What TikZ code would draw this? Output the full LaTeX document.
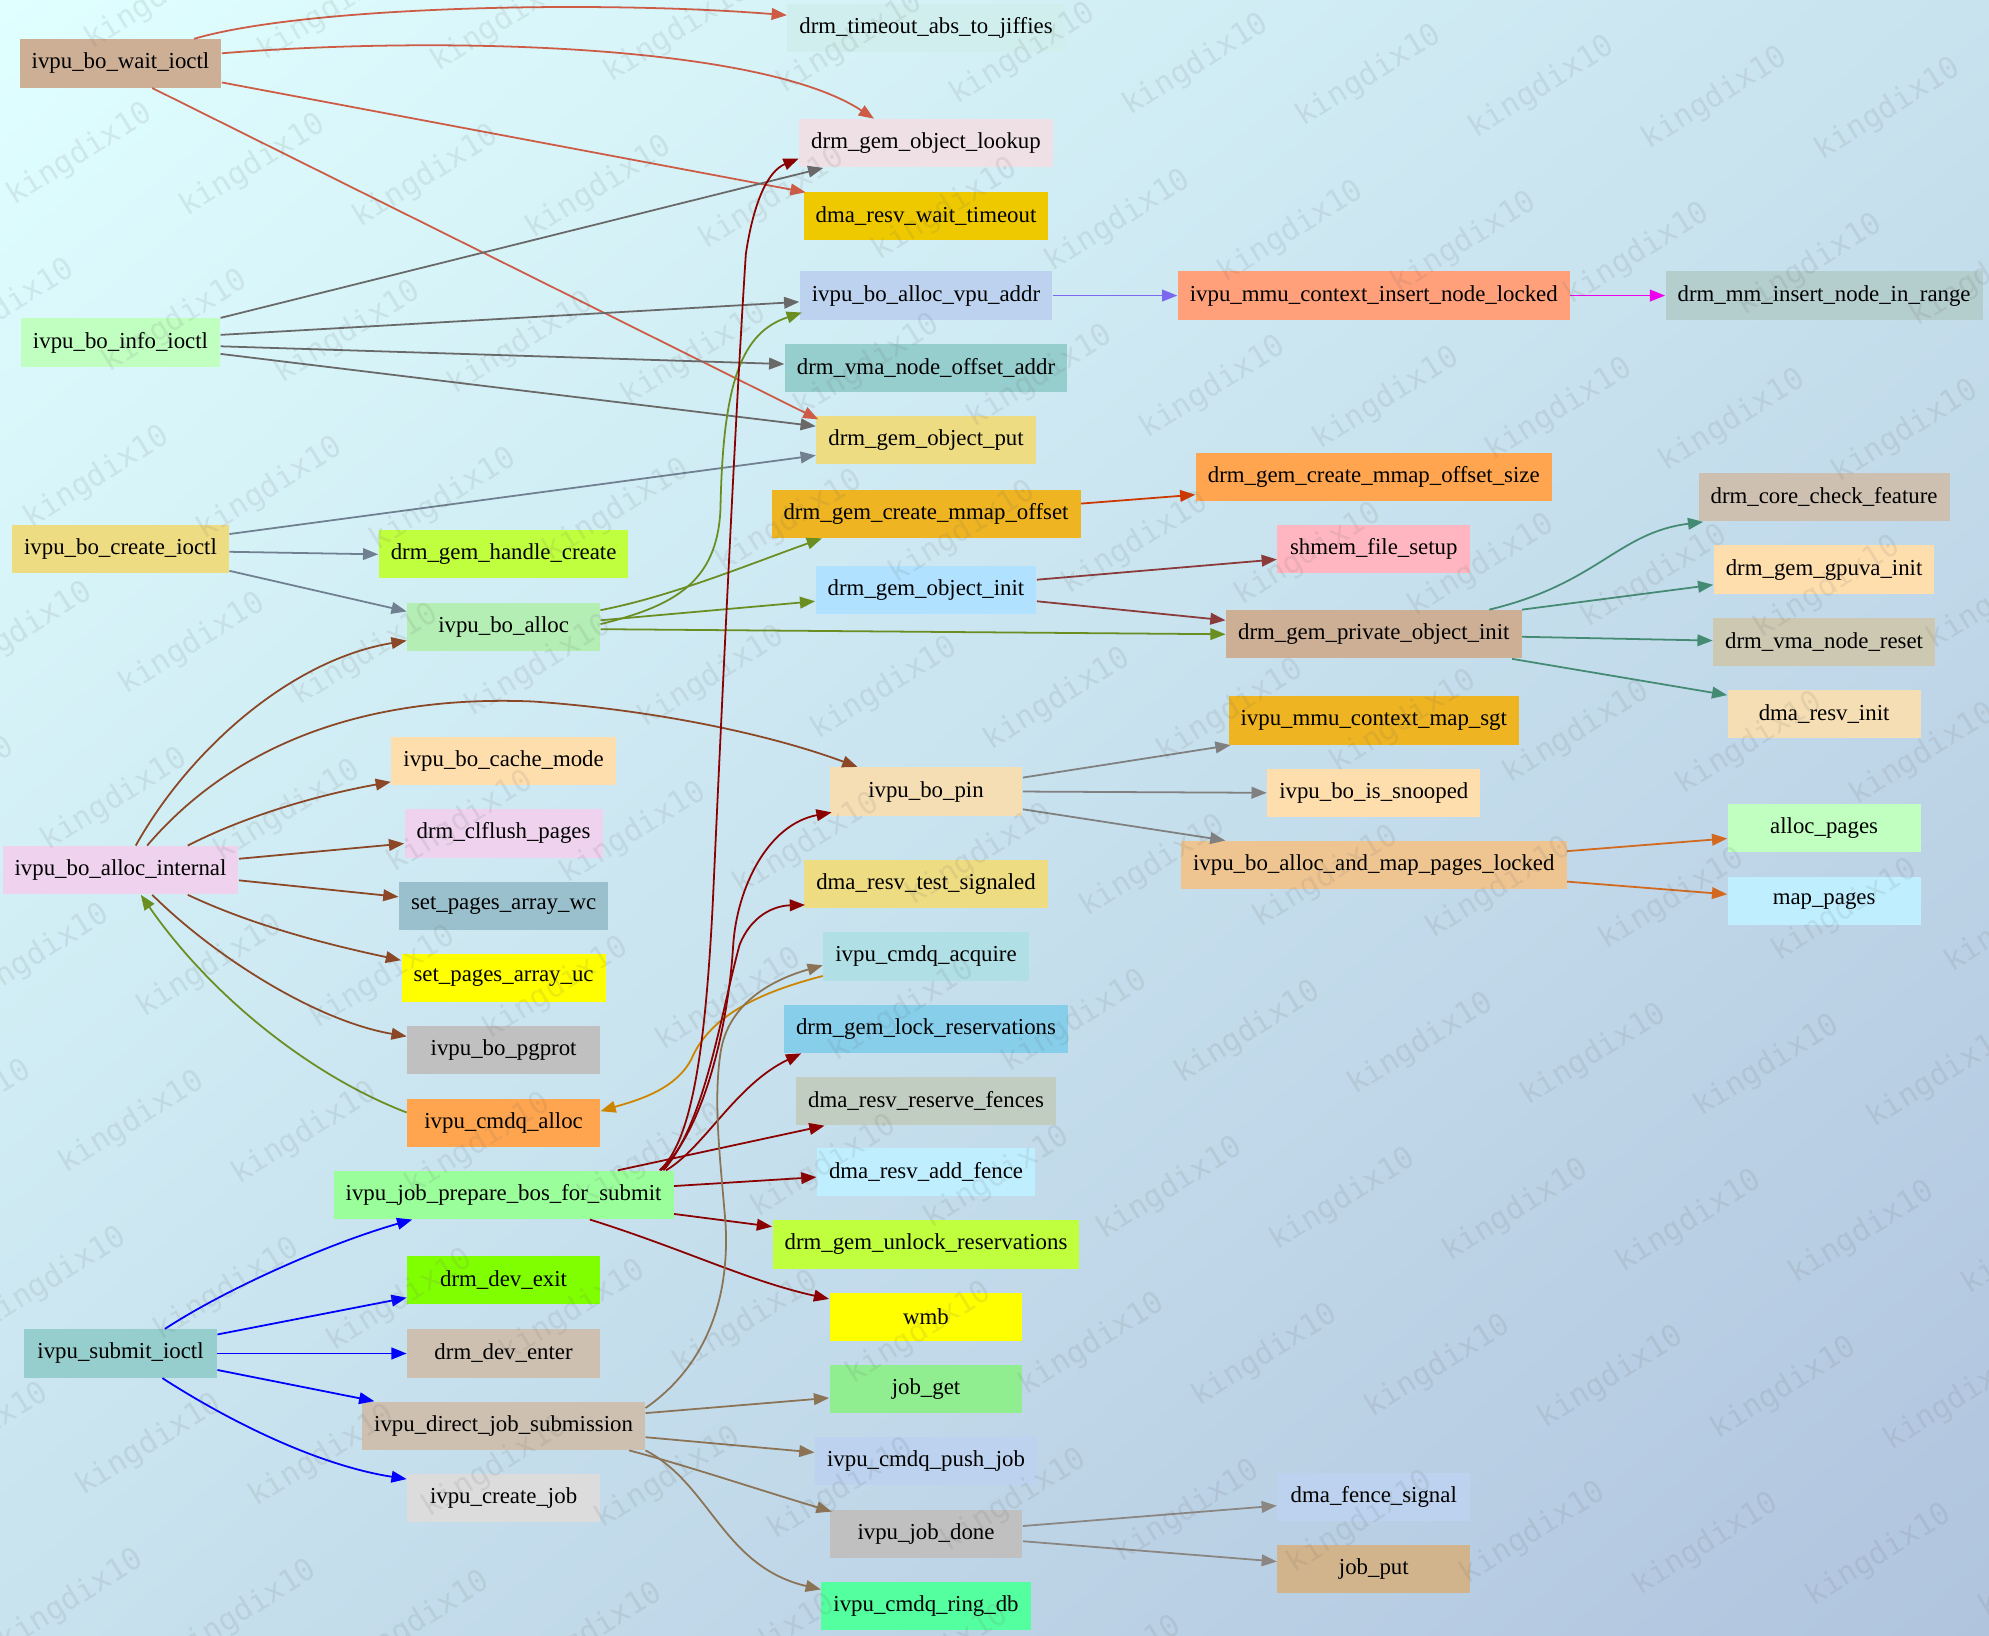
\documentclass[tikz,border=0pt]{standalone}
\usepackage{fontspec}
\setmainfont{Liberation Serif}
\newfontfamily\wmfont{DejaVu Sans Mono}
\usetikzlibrary{arrows.meta,shadings}
% node fills
\definecolor{cPeach3}{HTML}{CDAF95}
\definecolor{cDSG1}{HTML}{C1FFC1}
\definecolor{cLGold2}{HTML}{EEDC82}
\definecolor{cThistle2}{HTML}{EED2EE}
\definecolor{cPTurq3}{HTML}{96CDCD}
\definecolor{cOlive1}{HTML}{C0FF3E}
\definecolor{cDSG2}{HTML}{B4EEB4}
\definecolor{cNavajo}{HTML}{FFDEAD}
\definecolor{cLBlue3}{HTML}{9AC0CD}
\definecolor{cYellow}{HTML}{FFFF00}
\definecolor{cSilver}{HTML}{C0C0C0}
\definecolor{cTan1}{HTML}{FFA54F}
\definecolor{cPGreen1}{HTML}{9AFF9A}
\definecolor{cChart}{HTML}{7FFF00}
\definecolor{cAWhite3}{HTML}{CDC0B0}
\definecolor{cGains}{HTML}{DCDCDC}
\definecolor{cLCyan2}{HTML}{D1EEEE}
\definecolor{cLBlush2}{HTML}{EEE0E5}
\definecolor{cGold2}{HTML}{EEC900}
\definecolor{cLSB2}{HTML}{BCD2EE}
\definecolor{cGoldenrod2}{HTML}{EEB422}
\definecolor{cLSky1}{HTML}{B0E2FF}
\definecolor{cWheat}{HTML}{F5DEB3}
\definecolor{cPowder}{HTML}{B0E0E6}
\definecolor{cSky}{HTML}{87CEEB}
\definecolor{cHoney3}{HTML}{C1CDC1}
\definecolor{cLBlue1}{HTML}{BFEFFF}
\definecolor{cLGreen}{HTML}{90EE90}
\definecolor{cSeaGreen1}{HTML}{54FF9F}
\definecolor{cLSalmon}{HTML}{FFA07A}
\definecolor{cLPink}{HTML}{FFB6C1}
\definecolor{cBurly2}{HTML}{EEC591}
\definecolor{cTan}{HTML}{D2B48C}
\definecolor{cLCyan3}{HTML}{B4CDCD}
\definecolor{cCorn3}{HTML}{CDC8B1}
% edge colours
\definecolor{eCoral3}{HTML}{CD5B45}
\definecolor{eDimGray}{HTML}{696969}
\definecolor{eSlate}{HTML}{708090}
\definecolor{eOlive}{HTML}{6B8E23}
\definecolor{eMSlateBlue}{HTML}{7B68EE}
\definecolor{eMagenta}{HTML}{EE00EE}
\definecolor{eOrangeRed3}{HTML}{CD3700}
\definecolor{eIndian4}{HTML}{8B3A3A}
\definecolor{eAqua4}{HTML}{458B74}
\definecolor{eGray}{HTML}{808080}
\definecolor{eChoc}{HTML}{D2691E}
\definecolor{eSienna4}{HTML}{8B4726}
\definecolor{eOrange3}{HTML}{CD8500}
\definecolor{eDarkRed}{HTML}{8B0000}
\definecolor{eBlue}{HTML}{0000FF}
\definecolor{eBurly4}{HTML}{8B7355}
\definecolor{eSeashell4}{HTML}{8B8682}
% background
\definecolor{bgTL}{HTML}{E0FFFF}
\definecolor{bgMid}{HTML}{C8E2EE}
\definecolor{bgBR}{HTML}{B0C4DE}
\tikzset{
  fn/.style={rectangle, fill=#1, draw=none, inner xsep=4.75pt, inner ysep=0pt,
    minimum width=76pt, minimum height=19pt, font=\fontsize{9}{10}\selectfont, text=black},
  ed/.style={draw=#1, line width=0.7pt, -{Triangle[length=6pt,width=4.6pt]}},
  wm/.style={font=\wmfont\fontsize{12}{12}\selectfont, text=black!60, opacity=0.12,
    rotate=32, inner sep=0pt},
}
\begin{document}
\begin{tikzpicture}[x=0.5pt,y=-0.5pt]
\useasboundingbox (0,0) rectangle (1568,1289);
\shade[upper left=bgTL, upper right=bgMid, lower left=bgMid, lower right=bgBR]
  (0,0) rectangle (1568,1289);

% column 1
\node[fn=cPeach3]   (wait)     at (95,50)   {ivpu\_bo\_wait\_ioctl};
\node[fn=cDSG1]     (info)     at (95,270)  {ivpu\_bo\_info\_ioctl};
\node[fn=cLGold2]   (create)   at (95,433)  {ivpu\_bo\_create\_ioctl};
\node[fn=cThistle2] (internal) at (95,686)  {ivpu\_bo\_alloc\_internal};
\node[fn=cPTurq3]   (submit)   at (95,1067) {ivpu\_submit\_ioctl};
% column 2
\node[fn=cOlive1]   (handle)    at (397,437)  {drm\_gem\_handle\_create};
\node[fn=cDSG2]     (alloc)     at (397,494)  {ivpu\_bo\_alloc};
\node[fn=cNavajo]   (cache)     at (397,600)  {ivpu\_bo\_cache\_mode};
\node[fn=cThistle2] (clflush)   at (397,657)  {drm\_clflush\_pages};
\node[fn=cLBlue3]   (wc)        at (397,714)  {set\_pages\_array\_wc};
\node[fn=cYellow]   (uc)        at (397,771)  {set\_pages\_array\_uc};
\node[fn=cSilver]   (pgprot)    at (397,828)  {ivpu\_bo\_pgprot};
\node[fn=cTan1]     (cmdqalloc) at (397,885)  {ivpu\_cmdq\_alloc};
\node[fn=cPGreen1]  (prepare)   at (397,942)  {ivpu\_job\_prepare\_bos\_for\_submit};
\node[fn=cChart]    (exit)      at (397,1009) {drm\_dev\_exit};
\node[fn=cAWhite3]  (enter)     at (397,1067) {drm\_dev\_enter};
\node[fn=cAWhite3]  (direct)    at (397,1124) {ivpu\_direct\_job\_submission};
\node[fn=cGains]    (createjob) at (397,1181) {ivpu\_create\_job};
% column 3
\node[fn=cLCyan2]     (jiffies)     at (730,22)   {drm\_timeout\_abs\_to\_jiffies};
\node[fn=cLBlush2]    (lookup)      at (730,113)  {drm\_gem\_object\_lookup};
\node[fn=cGold2]      (waittimeout) at (730,170)  {dma\_resv\_wait\_timeout};
\node[fn=cLSB2]       (vpuaddr)     at (730,233)  {ivpu\_bo\_alloc\_vpu\_addr};
\node[fn=cPTurq3]     (vmaoffset)   at (730,290)  {drm\_vma\_node\_offset\_addr};
\node[fn=cLGold2]     (put)         at (730,347)  {drm\_gem\_object\_put};
\node[fn=cGoldenrod2] (mmapoffset)  at (730,405)  {drm\_gem\_create\_mmap\_offset};
\node[fn=cLSky1]      (objinit)     at (730,465)  {drm\_gem\_object\_init};
\node[fn=cWheat]      (pin)         at (730,624)  {ivpu\_bo\_pin};
\node[fn=cLGold2]     (testsig)     at (730,697)  {dma\_resv\_test\_signaled};
\node[fn=cPowder]     (acquire)     at (730,754)  {ivpu\_cmdq\_acquire};
\node[fn=cSky]        (lockres)     at (730,811)  {drm\_gem\_lock\_reservations};
\node[fn=cHoney3]     (reserve)     at (730,868)  {dma\_resv\_reserve\_fences};
\node[fn=cLBlue1]     (addfence)    at (730,924)  {dma\_resv\_add\_fence};
\node[fn=cOlive1]     (unlockres)   at (730,981)  {drm\_gem\_unlock\_reservations};
\node[fn=cYellow]     (wmb)         at (730,1038) {wmb};
\node[fn=cLGreen]     (jobget)      at (730,1095) {job\_get};
\node[fn=cLSB2]       (pushjob)     at (730,1152) {ivpu\_cmdq\_push\_job};
\node[fn=cSilver]     (jobdone)     at (730,1209) {ivpu\_job\_done};
\node[fn=cSeaGreen1]  (ringdb)      at (730,1266) {ivpu\_cmdq\_ring\_db};
% column 4
\node[fn=cLSalmon]    (insertlocked) at (1083,233)  {ivpu\_mmu\_context\_insert\_node\_locked};
\node[fn=cTan1]       (mmapsize)     at (1083,376)  {drm\_gem\_create\_mmap\_offset\_size};
\node[fn=cLPink]      (shmem)        at (1083,433)  {shmem\_file\_setup};
\node[fn=cPeach3]     (privinit)     at (1083,500)  {drm\_gem\_private\_object\_init};
\node[fn=cGoldenrod2] (mapsgt)       at (1083,568)  {ivpu\_mmu\_context\_map\_sgt};
\node[fn=cNavajo]     (snooped)      at (1083,625)  {ivpu\_bo\_is\_snooped};
\node[fn=cBurly2]     (allocmap)     at (1083,682)  {ivpu\_bo\_alloc\_and\_map\_pages\_locked};
\node[fn=cLSB2]       (fencesig)     at (1083,1180) {dma\_fence\_signal};
\node[fn=cTan]        (jobput)       at (1083,1237) {job\_put};
% column 5
\node[fn=cLCyan3]   (mmrange)    at (1438,233) {drm\_mm\_insert\_node\_in\_range};
\node[fn=cAWhite3]  (corefeat)   at (1438,392) {drm\_core\_check\_feature};
\node[fn=cNavajo]   (gpuva)      at (1438,449) {drm\_gem\_gpuva\_init};
\node[fn=cCorn3]    (vmareset)   at (1438,506) {drm\_vma\_node\_reset};
\node[fn=cWheat]    (resvinit)   at (1438,563) {dma\_resv\_init};
\node[fn=cDSG1]     (allocpages) at (1438,653) {alloc\_pages};
\node[fn=cLBlue1]   (mappages)   at (1438,710) {map\_pages};

% ---- edges ----
% ivpu_bo_wait_ioctl
\draw[ed=eCoral3] ([shift={(58,0)}]wait.north) .. controls (240,5) and (470,0) .. ([shift={(0,-10)}]jiffies.west);
\draw[ed=eCoral3] ([shift={(0,-8)}]wait.east) .. controls (350,28) and (600,35) .. ([shift={(-41,0)}]lookup.north);
\draw[ed=eCoral3] ([shift={(0,15)}]wait.east) -- ([shift={(2,1)}]waittimeout.north west);
\draw[ed=eCoral3] ([shift={(25,0)}]wait.south) -- ([shift={(2,3)}]put.north west);
% ivpu_bo_info_ioctl
\draw[ed=eDimGray] (info.north east) -- ([shift={(-81,0)}]lookup.south);
\draw[ed=eDimGray] ([shift={(0,-6)}]info.east) -- ([shift={(0,5)}]vpuaddr.west);
\draw[ed=eDimGray] ([shift={(0,3)}]info.east) -- ([shift={(0,-3)}]vmaoffset.west);
\draw[ed=eDimGray] ([shift={(0,9)}]info.east) -- ([shift={(0,-11)}]put.west);
% ivpu_bo_create_ioctl
\draw[ed=eSlate] ([shift={(0,-12)}]create.east) -- ([shift={(0,12)}]put.west);
\draw[ed=eSlate] ([shift={(0,2)}]create.east) -- (handle.west);
\draw[ed=eSlate] ([shift={(0,17)}]create.east) -- ([shift={(0,-12)}]alloc.west);
% ivpu_bo_alloc
\draw[ed=eOlive] ([shift={(0,-2)}]alloc.east) .. controls (530,478) and (566,460) .. (568,400)
  .. controls (570,300) and (585,262) .. ([shift={(2,-6)}]vpuaddr.south west);
\draw[ed=eOlive] ([shift={(0,-13)}]alloc.east) .. controls (530,470) and (590,445) .. ([shift={(-82,0)}]mmapoffset.south);
\draw[ed=eOlive] ([shift={(0,-5)}]alloc.east) -- ([shift={(0,9)}]objinit.west);
\draw[ed=eOlive] ([shift={(0,2)}]alloc.east) -- (privinit.west);
% chains to the right
\draw[ed=eMSlateBlue] (vpuaddr.east) -- (insertlocked.west);
\draw[ed=eMagenta] (insertlocked.east) -- (mmrange.west);
\draw[ed=eOrangeRed3] ([shift={(0,-8)}]mmapoffset.east) -- ([shift={(0,14)}]mmapsize.west);
\draw[ed=eIndian4] ([shift={(0,-8)}]objinit.east) -- ([shift={(0,8)}]shmem.west);
\draw[ed=eIndian4] ([shift={(0,9)}]objinit.east) -- ([shift={(0,-11)}]privinit.west);
% drm_gem_private_object_init
\draw[ed=eAqua4] ([shift={(91,0)}]privinit.north) .. controls (1260,460) and (1275,420) .. ([shift={(4,0)}]corefeat.south west);
\draw[ed=eAqua4] (privinit.north east) -- ([shift={(0,12)}]gpuva.west);
\draw[ed=eAqua4] ([shift={(0,2)}]privinit.east) -- ([shift={(0,-1)}]vmareset.west);
\draw[ed=eAqua4] ([shift={(109,0)}]privinit.south) -- ([shift={(0,-15)}]resvinit.west);
% ivpu_bo_pin
\draw[ed=eGray] ([shift={(0,-11)}]pin.east) -- ([shift={(2,0)}]mapsgt.south west);
\draw[ed=eGray] (pin.east) -- (snooped.west);
\draw[ed=eGray] ([shift={(0,14)}]pin.east) -- ([shift={(-117,0)}]allocmap.north);
% ivpu_bo_alloc_and_map_pages_locked
\draw[ed=eChoc] ([shift={(0,-11)}]allocmap.east) -- ([shift={(0,8)}]allocpages.west);
\draw[ed=eChoc] ([shift={(0,13)}]allocmap.east) -- ([shift={(0,-5)}]mappages.west);
% ivpu_bo_alloc_internal
\draw[ed=eSienna4] ([shift={(12,0)}]internal.north) .. controls (150,590) and (230,520) .. ([shift={(0,11)}]alloc.west);
\draw[ed=eSienna4] ([shift={(21,0)}]internal.north) .. controls (190,580) and (300,548) .. (420,553)
  .. controls (520,560) and (610,580) .. ([shift={(-54,0)}]pin.north);
\draw[ed=eSienna4] ([shift={(53,0)}]internal.north) .. controls (200,640) and (260,625) .. ([shift={(0,-3)}]cache.south west);
\draw[ed=eSienna4] ([shift={(0,-9)}]internal.east) -- ([shift={(0,8)}]clflush.west);
\draw[ed=eSienna4] ([shift={(0,8)}]internal.east) -- ([shift={(0,-7)}]wc.west);
\draw[ed=eSienna4] ([shift={(53,0)}]internal.south) .. controls (200,730) and (260,745) .. ([shift={(0,-14)}]uc.west);
\draw[ed=eSienna4] ([shift={(25,0)}]internal.south) .. controls (170,755) and (250,805) .. ([shift={(0,-11)}]pgprot.west);
% ivpu_cmdq_alloc, ivpu_cmdq_acquire
\draw[ed=eOlive] ([shift={(0,-8)}]cmdqalloc.west) .. controls (250,850) and (170,790) .. ([shift={(16,0)}]internal.south);
\draw[ed=eOrange3] ([shift={(0,-4)}]acquire.south west) .. controls (600,782) and (560,800) .. (545,835)
  .. controls (532,860) and (500,868) .. ([shift={(0,-9)}]cmdqalloc.east);
% ivpu_job_prepare_bos_for_submit
\draw[ed=eDarkRed] ([shift={(123,0)}]prepare.north) .. controls (545,900) and (556,830) .. (562,710)
  .. controls (567,600) and (580,320) .. (588,200)
  .. controls (594,160) and (605,135) .. ([shift={(0,12)}]lookup.west);
\draw[ed=eDarkRed] ([shift={(124,0)}]prepare.north) .. controls (555,890) and (574,810) .. (578,745)
  .. controls (581,700) and (605,650) .. ([shift={(2,-3)}]pin.south west);
\draw[ed=eDarkRed] ([shift={(126,0)}]prepare.north) .. controls (556,885) and (568,800) .. (583,745)
  .. controls (592,722) and (610,714) .. ([shift={(1,-3)}]testsig.south west);
\draw[ed=eDarkRed] ([shift={(128,0)}]prepare.north) .. controls (555,905) and (580,855) .. ([shift={(14,0)}]lockres.south west);
\draw[ed=eDarkRed] ([shift={(90,0)}]prepare.north) -- ([shift={(-80,0)}]reserve.south);
\draw[ed=eDarkRed] ([shift={(0,-7)}]prepare.east) -- ([shift={(0,4)}]addfence.west);
\draw[ed=eDarkRed] ([shift={(0,15)}]prepare.east) -- ([shift={(0,-14)}]unlockres.west);
\draw[ed=eDarkRed] ([shift={(68,0)}]prepare.south) .. controls (540,985) and (590,1010) .. ([shift={(0,-14)}]wmb.west);
% ivpu_submit_ioctl
\draw[ed=eBlue] ([shift={(35,0)}]submit.north) .. controls (180,1015) and (260,980) .. ([shift={(-72,0)}]prepare.south);
\draw[ed=eBlue] ([shift={(0,-15)}]submit.east) -- ([shift={(0,14)}]exit.west);
\draw[ed=eBlue] (submit.east) -- (enter.west);
\draw[ed=eBlue] ([shift={(0,13)}]submit.east) -- ([shift={(10,0)}]direct.north west);
\draw[ed=eBlue] ([shift={(33,0)}]submit.south) .. controls (180,1120) and (250,1155) .. ([shift={(0,-15)}]createjob.west);
% ivpu_direct_job_submission
\draw[ed=eBurly4] ([shift={(0,-14)}]direct.east) .. controls (545,1085) and (576,1040) .. (572,965)
  .. controls (568,915) and (562,870) .. (568,830)
  .. controls (574,790) and (610,772) .. ([shift={(0,7)}]acquire.west);
\draw[ed=eBurly4] ([shift={(0,-10)}]direct.east) -- ([shift={(0,7)}]jobget.west);
\draw[ed=eBurly4] ([shift={(0,9)}]direct.east) -- ([shift={(0,-7)}]pushjob.west);
\draw[ed=eBurly4] ([shift={(99,0)}]direct.south) .. controls (540,1155) and (600,1175) .. ([shift={(2,2)}]jobdone.north west);
\draw[ed=eBurly4] (direct.south east) .. controls (560,1170) and (570,1235) .. ([shift={(0,-13)}]ringdb.west);
% ivpu_job_done
\draw[ed=eSeashell4] ([shift={(0,-6)}]jobdone.east) -- ([shift={(0,7)}]fencesig.west);
\draw[ed=eSeashell4] ([shift={(0,6)}]jobdone.east) -- ([shift={(0,-6)}]jobput.west);

% watermark (only copies that reach into the picture)
\begin{scope}
\clip (0,0) rectangle (1568,1289);
\foreach \i in {-10,...,12} {
  \foreach \j in {-1,...,10} {
    \pgfmathsetmacro\wx{63+136.4*\i+75*\j}
    \pgfmathsetmacro\wy{122+8.7*\i+131.5*\j}
    \pgfmathtruncatemacro\wok{and(and(\wx>-50,\wx<1618),and(\wy>-30,\wy<1320))}
    \ifnum\wok=1
      \node[wm] at (\wx,\wy) {kingdix10};
    \fi
  }
}
\end{scope}
\end{tikzpicture}
\end{document}
